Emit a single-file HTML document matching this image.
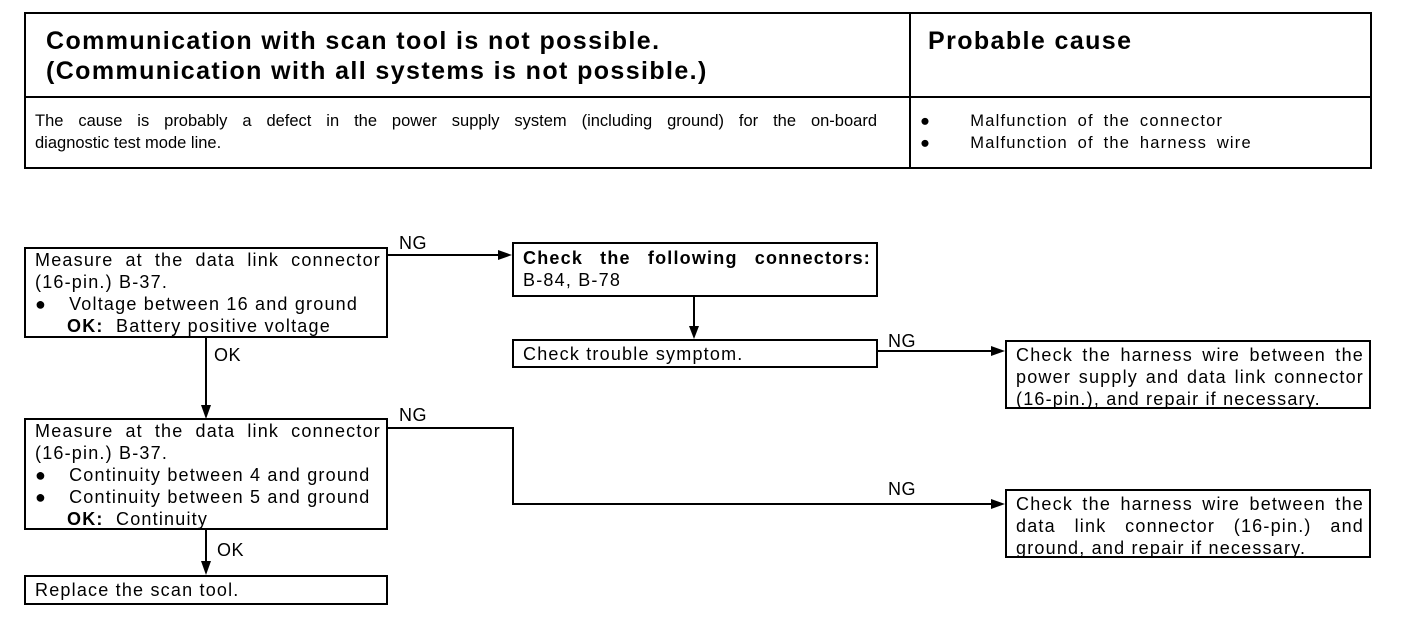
<!DOCTYPE html>
<html><head><meta charset="utf-8"><style>
body{margin:0;width:1408px;height:624px;background:#fff;position:relative;overflow:hidden;font-family:"Liberation Sans",Arial,sans-serif;color:#000}
.a{position:absolute}
.box{position:absolute;border:2px solid #000;box-sizing:border-box;font-size:18px;letter-spacing:1.2px;line-height:22px;padding:0 5px 0 9px;white-space:nowrap}
.j{text-align:justify;text-align-last:justify;white-space:normal}
.b{display:inline-block;width:22px}
.ok{display:inline-block;width:32px}
.lbl{position:absolute;font-size:18px;letter-spacing:0.5px}
.h{position:absolute;font-weight:bold;font-size:25px;line-height:30px;letter-spacing:1.4px}
</style></head><body>
<div class="a" style="left:24px;top:12px;width:1348px;height:157px;border:2px solid #000;box-sizing:border-box"></div>
<div class="a" style="left:24px;top:96px;width:1348px;height:2px;background:#000"></div>
<div class="a" style="left:909px;top:12px;width:2px;height:157px;background:#000"></div>
<div class="h" style="left:46px;top:26px">Communication with scan tool is not possible.<br>(Communication with all systems is not possible.)</div>
<div class="h" style="left:928px;top:26px">Probable cause</div>
<div class="a" style="left:35px;top:110px;width:842px;font-size:16.5px;line-height:22px">
<div style="text-align:justify;text-align-last:justify">The cause is probably a defect in the power supply system (including ground) for the on-board</div>diagnostic test mode line.</div>
<div class="a" style="left:920px;top:110px;font-size:16.5px;line-height:22px;letter-spacing:1.2px;word-spacing:4px">●&nbsp;&nbsp;&nbsp;&nbsp;Malfunction of the connector<br>●&nbsp;&nbsp;&nbsp;&nbsp;Malfunction of the harness wire</div>

<svg class="a" style="left:0;top:0" width="1408" height="624">
<g stroke="#000" stroke-width="2" fill="none">
<path d="M387 255H500"/>
<path d="M206 337V405"/>
<path d="M694 296V327"/>
<path d="M877 351H993"/>
<path d="M387 428H513V504H993"/>
<path d="M206 529V562"/>
</g>
<g fill="#000">
<path d="M512 255l-14-5v10z"/>
<path d="M206 419l-5-14h10z"/>
<path d="M694 339l-5-13h10z"/>
<path d="M1005 351l-14-5v10z"/>
<path d="M1005 504l-14-5v10z"/>
<path d="M206 575l-5-14h10z"/>
</g>
</svg>

<div class="box" style="left:24px;top:247px;width:364px;height:91px">
<div class="j">Measure at the data link connector</div>
(16-pin.) B-37.<br>●<span class="b"></span>Voltage between 16 and ground<br><span class="ok"></span><b>OK:</b>&nbsp; Battery positive voltage</div>
<div class="box" style="left:24px;top:418px;width:364px;height:112px">
<div class="j">Measure at the data link connector</div>
(16-pin.) B-37.<br>●<span class="b"></span>Continuity between 4 and ground<br>●<span class="b"></span>Continuity between 5 and ground<br><span class="ok"></span><b>OK:</b>&nbsp; Continuity</div>
<div class="box" style="left:24px;top:575px;width:364px;height:30px;line-height:26px">Replace the scan tool.</div>
<div class="box" style="left:512px;top:242px;width:366px;height:55px;padding-top:3px">
<div class="j"><b>Check the following connectors:</b></div>B-84, B-78</div>
<div class="box" style="left:512px;top:339px;width:366px;height:29px;line-height:26px">Check trouble symptom.</div>
<div class="box" style="left:1005px;top:340px;width:366px;height:69px;padding-top:2px">
<div class="j">Check the harness wire between the</div><div class="j">power supply and data link connector</div>(16-pin.), and repair if necessary.</div>
<div class="box" style="left:1005px;top:489px;width:366px;height:69px;padding-top:2px">
<div class="j">Check the harness wire between the</div><div class="j">data link connector (16-pin.) and</div>ground, and repair if necessary.</div>

<div class="lbl" style="left:399px;top:233px">NG</div>
<div class="lbl" style="left:214px;top:345px">OK</div>
<div class="lbl" style="left:888px;top:331px">NG</div>
<div class="lbl" style="left:399px;top:405px">NG</div>
<div class="lbl" style="left:888px;top:479px">NG</div>
<div class="lbl" style="left:217px;top:540px">OK</div>
</body></html>
